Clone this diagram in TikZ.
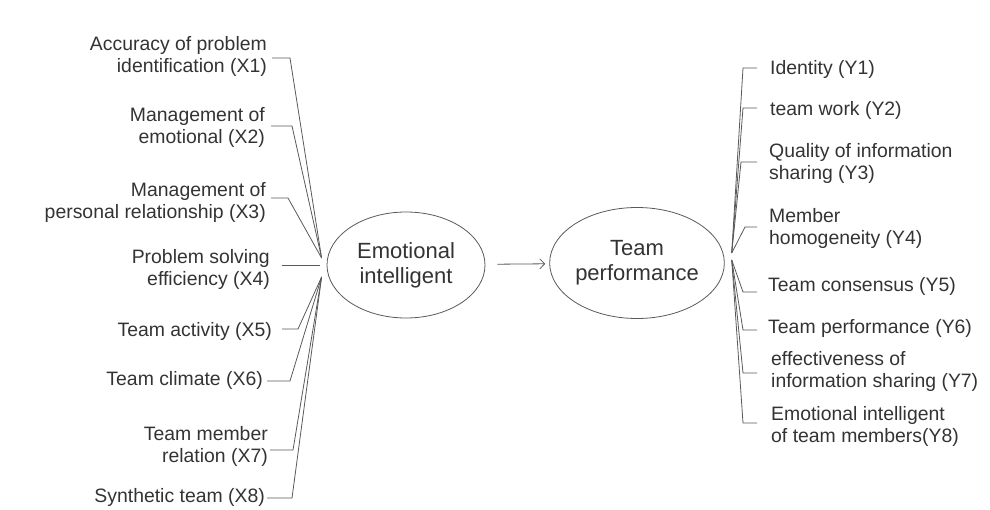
\documentclass[tikz,border=0pt]{standalone}
\usepackage{fontspec}
\setmainfont{Liberation Sans}
\usepackage{tikz}
\usetikzlibrary{arrows,arrows.meta,shapes,positioning}

\begin{document}
\begin{tikzpicture}[x=1pt,y=-1pt,
    lbl/.style={font=\fontsize{19.4}{22}\selectfont,text=black!80,inner sep=0pt},
    lblL/.style={lbl,anchor=east,align=right},
    lblR/.style={lbl,anchor=west,align=left},
    cons/.style={ellipse,draw=black!65,line width=0.8pt,align=center,inner sep=0pt,
        font=\fontsize{22}{25}\selectfont,text=black!80},
    link/.style={draw=black!65,line width=0.8pt}]
    \useasboundingbox (0,0) rectangle (990,510);

    \node[cons,minimum width=158pt,minimum height=106pt] (EI) at (406,265) {Emotional\\intelligent};
    \node[cons,minimum width=161pt,minimum height=111pt] (TP) at (637,263) {Team\\performance};
    \draw[link,-{Straight Barb[length=5pt,width=10pt]},shorten <=12pt,shorten >=4pt] (EI) -- (TP);

    \coordinate (hubLu) at ([shift={(-5,-7)}]EI.west);
    \coordinate (hubLd) at ([shift={(-5,12)}]EI.west);
    \coordinate (hubLm) at ([xshift=-7]EI.west);
    \coordinate (hubRu) at ([shift={(7,-10)}]TP.east);
    \coordinate (hubRd) at ([shift={(7,-3)}]TP.east);

    \node[lblL] (x1) at (267,56)  {Accuracy of problem\\identification (X1)};
    \node[lblL] (x2) at (265,127) {Management of\\emotional (X2)};
    \node[lblL] (x3) at (266,202) {Management of\\personal relationship (X3)};
    \node[lblL] (x4) at (270,269) {Problem solving\\efficiency (X4)};
    \node[lblL] (x5) at (272,331) {Team activity (X5)};
    \node[lblL] (x6) at (263,380) {Team climate (X6)};
    \node[lblL] (x7) at (268,446) {Team member\\relation (X7)};
    \node[lblL] (x8) at (265,497) {Synthetic team (X8)};

    \node[lblR] (y1) at (770,69)  {Identity (Y1)};
    \node[lblR] (y2) at (770,110) {team work (Y2)};
    \node[lblR] (y3) at (769,163) {Quality of information\\sharing (Y3)};
    \node[lblR] (y4) at (769,228) {Member\\homogeneity (Y4)};
    \node[lblR] (y5) at (768,286) {Team consensus (Y5)};
    \node[lblR] (y6) at (768,328) {Team performance (Y6)};
    \node[lblR] (y7) at (771,371) {effectiveness of\\information sharing (Y7)};
    \node[lblR] (y8) at (771,426) {Emotional intelligent\\of team members(Y8)};

    \draw[link] ([shift={(5,2)}]x1.east) -- ++(18,0) -- (hubLu);
    \draw[link] ([shift={(6,-1)}]x2.east) -- ++(21,0) -- (hubLu);
    \draw[link] ([shift={(5,-4)}]x3.east) -- ++(17,0) -- (hubLu);
    \draw[link] ([xshift=12]x4.east |- hubLm) -- (hubLm);
    \draw[link] ([shift={(10,-2)}]x5.east) -- ++(16,0) -- (hubLd);
    \draw[link] ([shift={(4,1)}]x6.east) -- ++(23,0) -- (hubLd);
    \draw[link] ([shift={(2,4)}]x7.east) -- ++(23,0) -- (hubLd);
    \draw[link] ([shift={(2,1)}]x8.east) -- ++(25,0) -- (hubLd);

    \draw[link] ([shift={(-13,-1)}]y1.west) -- ++(-14,0) -- (hubRu);
    \draw[link] ([shift={(-13,-2)}]y2.west) -- ++(-14,0) -- (hubRu);
    \draw[link] ([shift={(-12,-1)}]y3.west) -- ++(-16,0) -- (hubRu);
    \draw[link] ([shift={(-12,-1)}]y4.west) -- ++(-12,0) -- (hubRu);
    \draw[link] ([shift={(-11,6)}]y5.west) -- ++(-14,0) -- (hubRd);
    \draw[link] ([shift={(-11,2)}]y6.west) -- ++(-14,0) -- (hubRd);
    \draw[link] ([shift={(-14,2)}]y7.west) -- ++(-14,0) -- (hubRd);
    \draw[link] ([shift={(-14,-3)}]y8.west) -- ++(-14,0) -- (hubRd);
\end{tikzpicture}
\end{document}
